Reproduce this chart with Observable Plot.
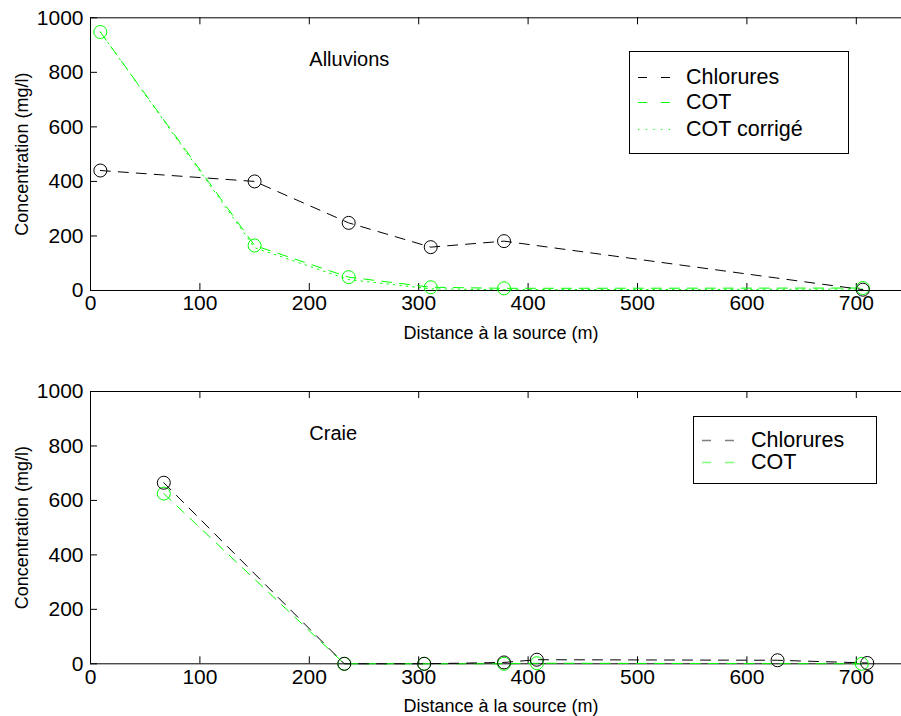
<!DOCTYPE html>
<html><head><meta charset="utf-8">
<script src="https://cdn.jsdelivr.net/npm/d3@7"></script>
<script src="https://cdn.jsdelivr.net/npm/@observablehq/plot@0.6"></script>
<style>
body{margin:0;background:#fff;font-family:"Liberation Sans",Arial,Helvetica,sans-serif;}
#wrap{position:relative;width:901px;height:716px;overflow:hidden;}
#wrap svg{display:block;}
.legend{position:absolute;border:1.3px solid #000;background:#fff;box-sizing:border-box;}
.legend .row{position:absolute;left:0;height:20px;}
.legend .row svg{position:absolute;left:7px;top:0;}
.legend .row span{position:absolute;top:0;white-space:nowrap;font-size:21.5px;line-height:20px;color:#000;}
</style></head><body><div id="wrap"></div><script>
// ---- tick values ----
const xTicks = [0, 100, 200, 300, 400, 500, 600, 700];
const yTicks = [0, 200, 400, 600, 800, 1000];

// ---- Alluvions (top panel) ----
const alluvionsDistance   = [9, 150, 236, 311, 378, 706];
const alluvionsChlorures  = [440, 400, 248, 159, 181, 3];
const alluvionsCOT        = [948, 165, 49, 12, 8, 9];
const alluvionsCOTcorrige = [948, 157, 40, 6, 3, 5];
const alluvionsLabel = ["Alluvions"]; const alluvionsLabelX = [200]; const alluvionsLabelY = [847];

// ---- Craie (bottom panel) ----
const craieDistance    = [67, 232, 305, 378, 408, 628, 710];
const craieChlorures   = [665, 0, 0, 5, 15, 13, 3];
const craieCOTDistance = [67, 232, 305, 378, 408, 705];
const craieCOT         = [625, 0, 0, 0, 2, 0];
const craieLabel = ["Craie"]; const craieLabelX = [200]; const craieLabelY = [845];

const seriesNames = ["Chlorures", "COT", "COT corrigé"];
const xLabel = "Distance à la source (m)";
const yLabel = "Concentration (mg/l)";

const GREEN = "#00ff00";
const FONT = "Liberation Sans, Arial, Helvetica, sans-serif";

function table(xs, ys) { return xs.map((x, i) => ({x, y: ys[i]})); }

function panel({height, marginTop, marginBottom, series, label, labelX, labelY}) {
  const innerH = height - marginTop - marginBottom;
  const innerW = 901 - 90;
  const marks = [
    Plot.ruleY([0, 1000], {stroke: "#000", strokeWidth: 1}),
    Plot.ruleX([0], {stroke: "#000", strokeWidth: 1}),
    Plot.tickX(xTicks, {x: d => d, insetTop: innerH - 7, stroke: "#000"}),
    Plot.tickX(xTicks, {x: d => d, insetBottom: innerH - 7, stroke: "#000"}),
    Plot.tickY(yTicks, {y: d => d, insetRight: innerW - 7, stroke: "#000"}),
    Plot.axisX(xTicks, {anchor: "bottom", tickSize: 0, tickPadding: 5, fontSize: 21, label: null, tickFormat: d => String(d)}),
    Plot.axisY(yTicks, {anchor: "left", tickSize: 0, tickPadding: 7, fontSize: 21, label: null, tickFormat: d => String(d)}),
    Plot.text([xLabel], {frameAnchor: "bottom", textAnchor: "middle", lineAnchor: "top", dy: 35.5, dx: 5, fontSize: 18, fill: "#000"}),
    Plot.text([yLabel], {frameAnchor: "left", textAnchor: "middle", rotate: -90, lineAnchor: "middle", dx: -68, fontSize: 18, fill: "#000"}),
    Plot.text(label, {x: (d, i) => labelX[i], y: (d, i) => labelY[i], textAnchor: "start", lineAnchor: "middle", fontSize: 20, fill: "#000"})
  ];
  for (const s of series) {
    const data = table(s.x, s.y);
    marks.push(Plot.line(data, {x: "x", y: "y", stroke: s.color, strokeWidth: 1, strokeDasharray: s.dash}));
    if (s.dots) marks.push(Plot.dot(data, {x: "x", y: "y", r: 6.5, stroke: s.color, fill: "none", strokeWidth: 1}));
  }
  return Plot.plot({
    width: 901, height, marginLeft: 90, marginRight: 0, marginTop, marginBottom,
    style: {fontFamily: FONT, color: "#000", background: "#fff", overflow: "visible"},
    x: {domain: [0, 811 / 1.094], axis: null},
    y: {domain: [0, 1000], axis: null},
    marks
  });
}

const wrap = document.getElementById("wrap");
wrap.append(panel({
  height: 358, marginTop: 17.3, marginBottom: 68,
  label: alluvionsLabel, labelX: alluvionsLabelX, labelY: alluvionsLabelY,
  series: [
    {x: alluvionsDistance, y: alluvionsCOTcorrige, color: GREEN, dash: "1.5,5", dots: false},
    {x: alluvionsDistance, y: alluvionsCOT, color: GREEN, dash: "10,8", dots: true},
    {x: alluvionsDistance, y: alluvionsChlorures, color: "#000", dash: "10,8", dots: true}
  ]
}));
wrap.append(panel({
  height: 358, marginTop: 33, marginBottom: 52.7,
  label: craieLabel, labelX: craieLabelX, labelY: craieLabelY,
  series: [
    {x: craieCOTDistance, y: craieCOT, color: GREEN, dash: "10,8", dots: true},
    {x: craieDistance, y: craieChlorures, color: "#000", dash: "10,8", dots: true}
  ]
}));

function legend(left, top, width, height, rowYs, entries) {
  const box = document.createElement("div");
  box.className = "legend";
  Object.assign(box.style, {left: left + "px", top: top + "px", width: width + "px", height: height + "px"});
  entries.forEach((e, i) => {
    const row = document.createElement("div");
    row.className = "row";
    row.style.top = (rowYs[i] - 10) + "px";
    row.style.width = (width - 4) + "px";
    row.innerHTML = `<svg width="36" height="20"><line x1="1" x2="34" y1="10.5" y2="10.5" stroke="${e.color}" stroke-width="${e.w}" stroke-dasharray="${e.dash}"/></svg><span style="left:${e.tx}px">${e.name}</span>`;
    box.append(row);
  });
  wrap.append(box);
}
legend(629, 51, 220, 103, [25, 50, 77], [
  {name: seriesNames[0], color: "#000", dash: "9,14", w: 1, tx: 56},
  {name: seriesNames[1], color: GREEN, dash: "9,14", w: 1.2, tx: 56},
  {name: seriesNames[2], color: GREEN, dash: "1.2,6.5", w: 1.2, tx: 56}
]);
legend(693, 416, 184, 68, [23, 45], [
  {name: seriesNames[0], color: "#808080", dash: "9,14", w: 1.5, tx: 57},
  {name: seriesNames[1], color: "#80ff80", dash: "9,14", w: 1.5, tx: 57}
]);
</script></body></html>
